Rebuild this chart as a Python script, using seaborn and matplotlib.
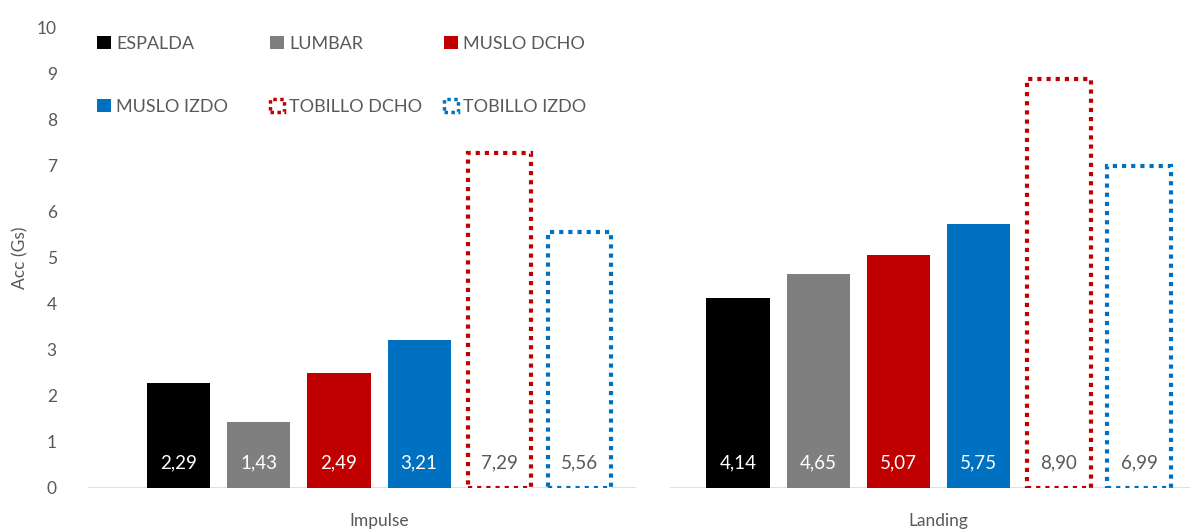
import matplotlib
matplotlib.use("Agg")
import matplotlib.pyplot as plt
from matplotlib.patches import Patch
import seaborn as sns
import pandas as pd

# Peak accelerations (Gs) per sensor location and jump phase
phases = ["Impulse", "Landing"]
sensors = ["ESPALDA", "LUMBAR", "MUSLO DCHO", "MUSLO IZDO", "TOBILLO DCHO", "TOBILLO IZDO"]
impulse_acc = [2.29, 1.43, 2.49, 3.21, 7.29, 5.56]
landing_acc = [4.14, 4.65, 5.07, 5.75, 8.90, 6.99]
y_ticks = [0, 1, 2, 3, 4, 5, 6, 7, 8, 9, 10]

colors = ["#000000", "#7F7F7F", "#C00000", "#0070C0", "#C00000", "#0070C0"]
dotted = [False, False, False, False, True, True]

rows = []
for phase, vals in zip(phases, [impulse_acc, landing_acc]):
    for s, v in zip(sensors, vals):
        rows.append({"phase": phase, "sensor": s, "acc": v})
df = pd.DataFrame(rows)

sns.set_theme(style="white")
plt.rcParams["font.family"] = ["Lato", "DejaVu Sans"]

W, H = 1196, 531
fig = plt.figure(figsize=(W / 100, H / 100), dpi=100)
ax = fig.add_axes([68 / W, 43 / H, 1 - 68 / W, (488 - 28) / H])

sns.barplot(data=df, x="phase", y="acc", hue="sensor", order=phases,
            hue_order=sensors, palette=colors, width=0.86, gap=0.21,
            errorbar=None, legend=False, saturation=1, ax=ax)

for cont, col, dot in zip(ax.containers, colors, dotted):
    for patch, val in zip(cont.patches, cont.datavalues):
        if dot:
            patch.set_facecolor("white")
            patch.set_edgecolor(col)
            patch.set_linestyle((0, (1, 1.2)))
            patch.set_linewidth(3)
            tcol = "#595959"
        else:
            patch.set_edgecolor("none")
            tcol = "white"
        ax.text(patch.get_x() + patch.get_width() / 2, 0.55,
                f"{val:.2f}".replace(".", ","), ha="center", va="center",
                fontsize=13.5, color=tcol)

ax.set_ylim(0, 10)
ax.set_xlim(-0.556, 1.46)
ax.set_yticks(y_ticks)
ax.set_yticklabels([str(t) for t in y_ticks])
ax.set_xlabel("")
ax.set_ylabel("Acc (Gs)", fontsize=12.5, color="#595959", labelpad=6)
for sp in ax.spines.values():
    sp.set_visible(False)
ax.tick_params(axis="both", length=0, labelsize=12.5, labelcolor="#595959")
ax.tick_params(axis="y", pad=8)
ax.tick_params(axis="x", pad=18)

# separate baseline segments under each phase group
for c, (lo, hi) in zip(range(len(phases)), [(-0.52, 0.46), (-0.48, 0.45)]):
    ax.hlines(0, c + lo, c + hi, color="#D9D9D9", linewidth=1.2, zorder=0)

handles = []
for s, col, dot in zip(sensors, colors, dotted):
    if dot:
        handles.append(Patch(facecolor="white", edgecolor=col,
                             linestyle=(0, (1, 1)), linewidth=2.5, label=s))
    else:
        handles.append(Patch(facecolor=col, edgecolor="none", label=s))

# legend laid out as equal-width columns, two rows each
col_x = [88, 261, 435]
for k, x in enumerate(col_x):
    leg = fig.legend(handles=[handles[k], handles[k + 3]], loc="upper left",
                     bbox_to_anchor=(x / W, 1 - 27 / H), frameon=False,
                     fontsize=13, handlelength=0.75, handleheight=0.75,
                     handletextpad=0.3, labelspacing=2.6, borderpad=0)
    for t in leg.get_texts():
        t.set_color("#595959")

fig.savefig("out.png", dpi=100, facecolor="white")
